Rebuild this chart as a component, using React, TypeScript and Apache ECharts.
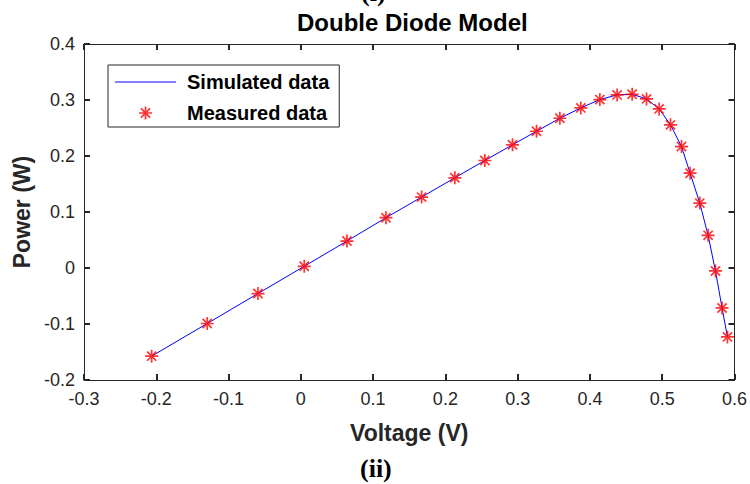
import React, { useEffect, useRef } from "react";
import * as echarts from "echarts";

// Voltage (V) of each measured point
const voltage = [
  -0.2064, -0.1295, -0.0593, 0.0047, 0.0638, 0.1178, 0.1671, 0.2131, 0.2546,
  0.2929, 0.3261, 0.3584, 0.3874, 0.4137, 0.4376, 0.4584, 0.4783, 0.4957,
  0.5115, 0.5267, 0.5386, 0.552, 0.5635, 0.5737, 0.5828, 0.5903,
];
// Measured power (W)
const powerMeasured = [
  -0.1574, -0.0991, -0.0456, 0.003, 0.0481, 0.0898, 0.1266, 0.1611, 0.192,
  0.22, 0.2442, 0.2674, 0.2859, 0.3007, 0.3091, 0.3102, 0.302, 0.2841, 0.2556,
  0.2169, 0.1693, 0.1159, 0.0583, -0.0053, -0.0713, -0.123,
];
// Simulated power (W), same voltages
const powerSimulated = [
  -0.1574, -0.0991, -0.0456, 0.003, 0.0481, 0.0898, 0.1266, 0.1611, 0.192,
  0.22, 0.2442, 0.2674, 0.2859, 0.3007, 0.3091, 0.3102, 0.302, 0.2841, 0.2556,
  0.2169, 0.1693, 0.1159, 0.0583, -0.0053, -0.0713, -0.123,
];

const xMin = -0.3;
const xMax = 0.6;
const yMin = -0.2;
const yMax = 0.4;
const tickStep = 0.1;

const seriesNames = ["Simulated data", "Measured data"];
const titleText = "Double Diode Model";
const xName = "Voltage (V)";
const yName = "Power (W)";

const STAR =
  "path://M0 8.7H20V11.3H0Z M8.7 0H11.3V20H8.7Z M3.85 2.0L18.0 16.15L16.15 18.0L2.0 3.85Z M16.15 2.0L18.0 3.85L3.85 18.0L2.0 16.15Z";
const LINE_ICON = "path://M0 0H61V1H0Z";

const AX = "#262626";
const FONT = "'Liberation Sans', Arial, Helvetica, sans-serif";
const SERIF = "'Liberation Serif', 'Times New Roman', serif";

const fmt = (v: number) => String(Number(v.toFixed(1)));

function axisCommon(showLabel: boolean) {
  return {
    type: "value" as const,
    interval: tickStep,
    axisLine: { show: true, onZero: false, lineStyle: { color: AX, width: 1 } },
    axisTick: { show: true, inside: true, length: 6, lineStyle: { color: AX, width: 2 } },
    splitLine: { show: false },
    axisLabel: showLabel
      ? { show: true, fontSize: 18, color: AX, fontFamily: FONT, formatter: fmt }
      : { show: false },
  };
}

export default function App() {
  const ref = useRef<HTMLDivElement>(null);

  useEffect(() => {
    document.body.style.margin = "0";
    if (!ref.current) return;
    const chart = echarts.init(ref.current, undefined, { renderer: "svg" });
    const measured = voltage.map((v, i) => [v, powerMeasured[i]]);
    const simulated = voltage.map((v, i) => [v, powerSimulated[i]]);

    chart.setOption({
      animation: false,
      backgroundColor: "#ffffff",
      title: {
        text: titleText,
        left: 297,
        top: 10,
        textStyle: { fontSize: 24, fontWeight: "bold", color: "#000", fontFamily: FONT },
        padding: 0,
      },
      grid: { left: 84, right: 15, top: 44, bottom: 104, containLabel: false },
      xAxis: [
        {
          ...axisCommon(true),
          min: xMin,
          max: xMax,
          position: "bottom",
          axisLabel: { show: true, fontSize: 18, color: AX, fontFamily: FONT, formatter: fmt, margin: 10 },
          name: xName,
          nameLocation: "middle",
          nameGap: 41,
          nameTextStyle: { fontSize: 23, fontWeight: "bold", color: AX, fontFamily: FONT },
        },
        { ...axisCommon(false), min: xMin, max: xMax, position: "top" },
      ],
      yAxis: [
        {
          ...axisCommon(true),
          min: yMin,
          max: yMax,
          position: "left",
          axisLabel: { show: true, fontSize: 18, color: AX, fontFamily: FONT, formatter: fmt, margin: 9 },
          name: yName,
          nameLocation: "middle",
          nameGap: 51,
          nameTextStyle: { fontSize: 23, fontWeight: "bold", color: AX, fontFamily: FONT },
        },
        { ...axisCommon(false), min: yMin, max: yMax, position: "right" },
      ],
      legend: {
        left: 108,
        top: 65,
        orient: "vertical",
        itemWidth: 61,
        itemHeight: 13,
        itemGap: 11,
        padding: [7, 10, 4, 7],
        borderColor: AX,
        borderWidth: 1,
        borderRadius: 0,
        backgroundColor: "#ffffff",
        textStyle: { fontSize: 20, fontWeight: "bold", color: "#000", fontFamily: FONT, padding: [0, 0, 0, 6] },
        data: [{ name: seriesNames[0], icon: LINE_ICON }, { name: seriesNames[1] }],
      },
      graphic: [
        {
          type: "text",
          left: 361,
          top: -21,
          style: { text: "(i)", fontSize: 26, fontWeight: "bold", fontFamily: SERIF, fill: "#000" },
        },
        {
          type: "text",
          left: 360,
          top: 455,
          style: { text: "(ii)", fontSize: 26, fontWeight: "bold", fontFamily: SERIF, fill: "#000" },
        },
      ],
      series: [
        {
          type: "line",
          name: seriesNames[0],
          data: simulated,
          symbol: "none",
          lineStyle: { color: "#0000ff", width: 1 },
          itemStyle: { color: "#0000ff" },
          z: 2,
        },
        {
          type: "scatter",
          name: seriesNames[1],
          data: measured,
          symbol: STAR,
          symbolSize: 13,
          itemStyle: { color: "#ff0000" },
          z: 3,
        },
      ],
    });
    return () => chart.dispose();
  }, []);

  return <div ref={ref} style={{ width: 750, height: 484 }} />;
}
